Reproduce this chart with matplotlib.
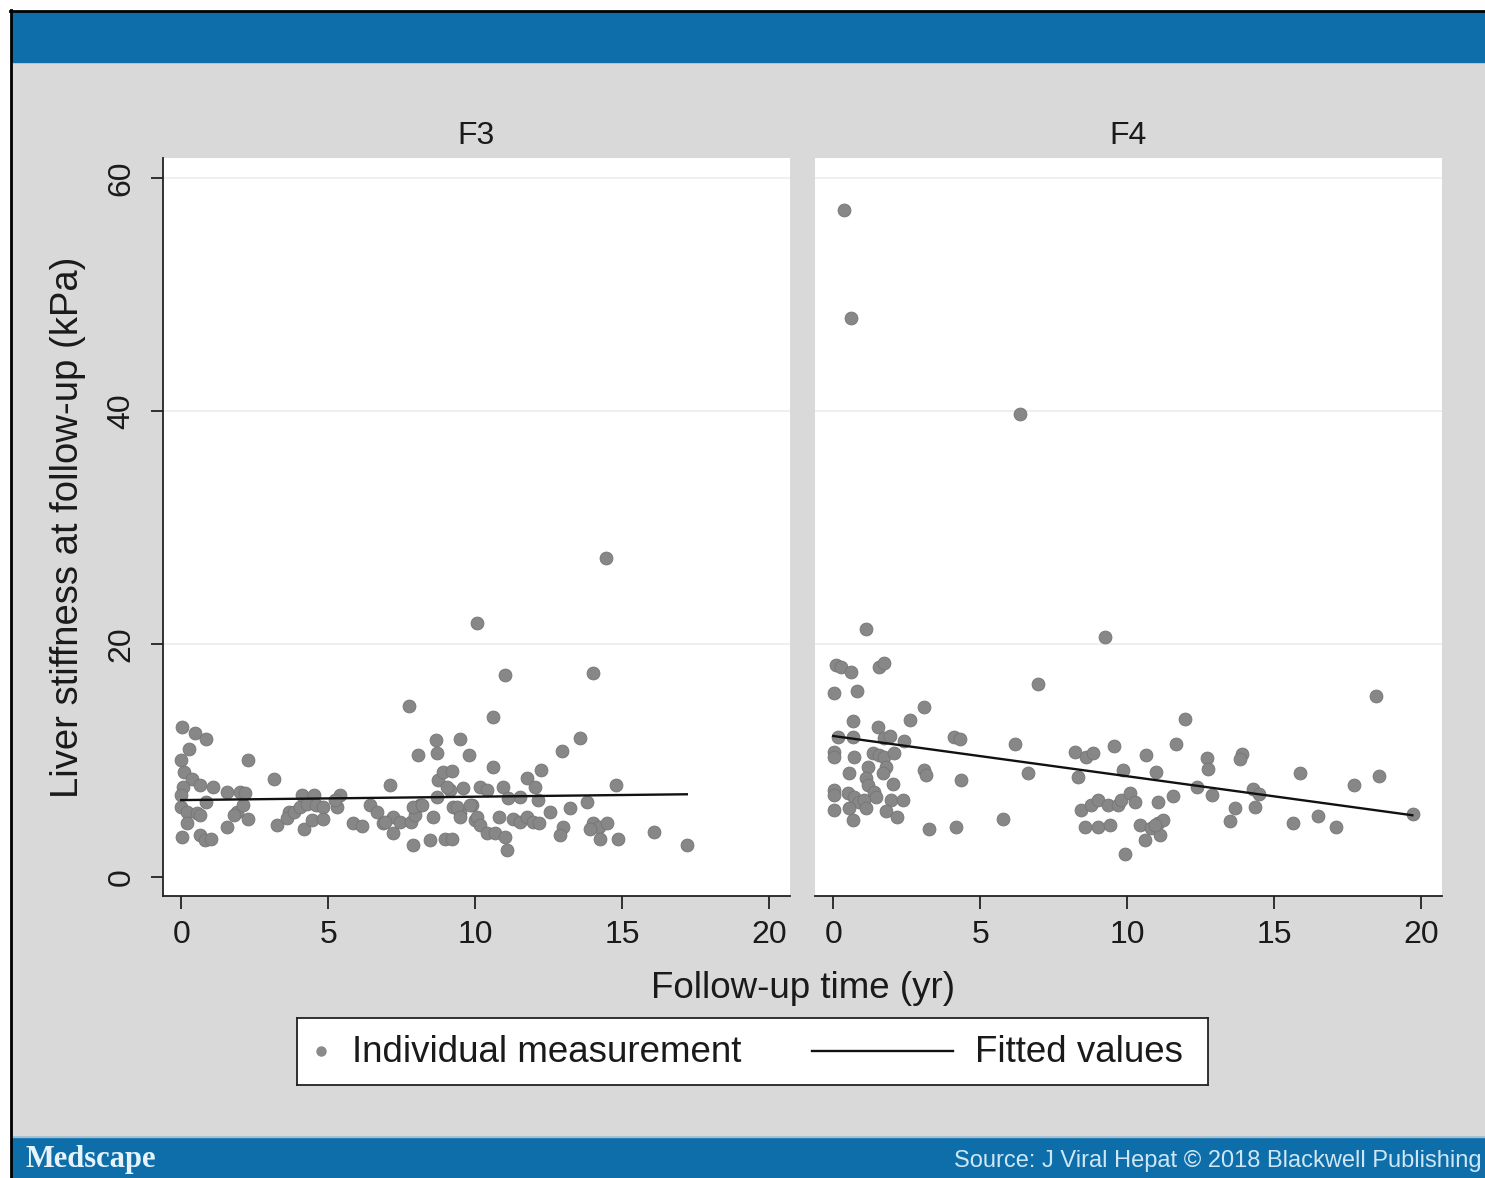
import matplotlib
matplotlib.use('Agg')
import matplotlib.pyplot as plt
from matplotlib.patches import Rectangle
from matplotlib.lines import Line2D

# ---- data ----
f3_time = [0.02, 0.48, 0.84, 0.25, 0.0, 2.26, 0.08, 0.36, 3.14, 0.06, 0.65, 1.08, 1.55, 2.0,
           2.18, 0.0, 0.85, 0.0, 0.19, 0.53, 0.65, 1.9, 1.8, 2.1, 2.26, 3.68, 0.19, 1.56,
           3.25, 3.6, 3.82, 4.05, 4.1, 4.5, 4.27, 4.6, 4.84, 4.16, 4.45, 4.84, 5.3, 5.4,
           5.24, 5.86, 6.15, 6.43, 6.65, 7.1, 7.75, 6.88, 7.22, 7.22, 7.45, 7.9, 7.8, 7.96,
           8.13, 8.07, 8.66, 8.71, 9.49, 9.78, 8.45, 8.98, 9.22, 8.58, 8.75, 8.92, 9.2, 9.15,
           9.58, 9.26, 9.5, 9.9, 10.0, 8.7, 10.6, 10.6, 12.23, 12.95, 13.55, 9.04, 10.17, 10.4,
           10.96, 11.76, 12.04, 12.15, 11.53, 11.13, 9.38, 9.83, 9.49, 7.9, 8.19, 6.94, 10.06,
           10.17, 10.4, 10.68, 11.0, 11.08, 10.8, 11.3, 11.53, 11.76, 11.98, 12.16, 12.55,
           13.23, 13.0, 12.87, 14.8, 13.8, 14.0, 14.2, 13.9, 14.48, 14.23, 14.87, 16.07, 17.2,
           14.44, 10.06, 11.0, 14.02, 0.02, 0.65, 0.82, 1.0]
f3_lsm = [12.85, 12.4, 11.8, 11.0, 10.0, 10.0, 9.0, 8.45, 8.45, 7.75, 7.9, 7.75, 7.3, 7.3,
          7.2, 7.0, 6.45, 6.0, 5.6, 5.45, 5.3, 5.6, 5.3, 6.2, 5.0, 5.6, 4.6, 4.3,
          4.45, 5.1, 5.6, 6.0, 7.0, 7.0, 6.3, 6.2, 6.0, 4.15, 4.9, 5.0, 6.0, 7.0,
          6.6, 4.6, 4.35, 6.2, 5.6, 7.9, 14.7, 4.6, 5.17, 3.74, 4.74, 2.75, 4.74, 5.3,
          6.2, 10.45, 11.78, 10.67, 11.8, 10.45, 3.15, 3.3, 3.3, 5.17, 8.3, 9.0, 9.1, 7.5,
          7.6, 6.0, 5.46, 6.2, 4.9, 6.9, 13.75, 9.46, 9.2, 10.85, 11.9, 7.75, 7.75, 7.47,
          7.75, 8.46, 7.75, 6.6, 6.9, 6.75, 6.0, 6.2, 5.17, 6.0, 6.2, 4.74, 5.17,
          4.46, 3.74, 3.74, 3.45, 2.3, 5.17, 5.0, 4.74, 5.17, 4.74, 4.6, 5.6,
          5.9, 4.3, 3.6, 7.9, 6.45, 4.6, 4.3, 4.15, 4.6, 3.3, 3.3, 3.9, 2.75,
          27.4, 21.8, 17.3, 17.5, 3.45, 3.6, 3.2, 3.26]

f4_time = [0.35, 0.62, 6.34, 1.11, 9.23, 0.09, 0.26, 0.6, 1.57, 1.74, 0.03, 0.8, 6.96, 3.1,
           2.62, 0.66, 1.53, 0.15, 0.66, 1.74, 1.94, 2.4, 4.12, 4.3, 6.2, 0.03, 0.03, 0.69,
           1.34, 1.57, 1.74, 2.08, 1.17, 1.8, 0.55, 1.68, 3.1, 3.16, 4.35, 6.62, 1.11, 1.17,
           2.05, 0.03, 0.03, 0.49, 0.72, 0.89, 1.06, 1.4, 1.45, 1.97, 2.36, 0.03, 0.55, 1.11,
           1.8, 2.17, 0.66, 3.27, 4.18, 5.77, 8.21, 8.6, 8.83, 9.55, 9.86, 8.32, 8.44, 8.78,
           9.0, 9.35, 9.69, 9.8, 10.08, 8.55, 9.0, 9.4, 9.91, 11.96, 10.65, 11.65, 12.7, 12.75,
           10.97, 12.36, 12.87, 10.26, 11.05, 11.56, 10.43, 10.82, 11.05, 11.22, 11.1, 10.6,
           18.47, 13.9, 13.83, 15.88, 18.57, 17.72, 14.27, 14.5, 19.74, 13.66, 13.49, 14.34,
           15.65, 16.5, 17.1, 10.94]
f4_lsm = [57.2, 48.0, 39.7, 21.3, 20.6, 18.2, 18.0, 17.6, 18.05, 18.4, 15.76, 15.96, 16.6, 14.56,
          13.5, 13.4, 12.84, 12.04, 12.04, 11.9, 12.1, 11.7, 12.04, 11.8, 11.4, 10.75, 10.3, 10.3,
          10.6, 10.46, 10.3, 10.6, 9.46, 9.46, 8.9, 8.9, 9.18, 8.75, 8.33, 8.95, 8.46, 7.9,
          7.97, 7.47, 7.04, 7.18, 6.9, 6.45, 6.6, 7.3, 6.9, 6.6, 6.6, 5.75, 5.9, 5.9,
          5.67, 5.17, 4.9, 4.08, 4.3, 5.0, 10.75, 10.3, 10.6, 11.2, 9.18, 8.6, 5.75, 6.18,
          6.6, 6.18, 6.18, 6.6, 7.2, 4.3, 4.3, 4.46, 2.0, 13.6, 10.46, 11.4, 10.17, 9.23,
          9.0, 7.75, 7.04, 6.45, 6.45, 6.95, 4.46, 4.17, 4.6, 4.9, 3.6, 3.18,
          15.54, 10.55, 10.1, 8.95, 8.67, 7.9, 7.52, 7.12, 5.37, 5.88, 4.82, 5.97,
          4.65, 5.23, 4.3, 4.46]

# fitted line end points
fit3_time = [0.0, 17.2]
fit3_lsm = [6.6, 7.1]
fit4_time = [0.0, 19.7]
fit4_lsm = [12.1, 5.3]

panels = ['F3', 'F4']
xticks = [0, 5, 10, 15, 20]
yticks = [0, 20, 40, 60]

W, H = 1485, 1178
BLUE = '#0d6eaa'
GRAY_BG = '#d9d9d9'
DOT = '#878787'
plt.rcParams['font.family'] = ['Liberation Sans', 'DejaVu Sans']


def fx(x):
    return x / W


def fy(y):
    return 1 - y / H


fig = plt.figure(figsize=(W / 100, H / 100), dpi=100)
fig.patch.set_facecolor('white')

# page background, header and footer bars
fig.add_artist(Rectangle((fx(12), fy(1137)), fx(W - 12), (1137 - 62) / H,
                         transform=fig.transFigure, color=GRAY_BG, zorder=-10))
fig.add_artist(Rectangle((fx(12), fy(62)), fx(W - 12), 50 / H,
                         transform=fig.transFigure, color=BLUE, zorder=-9))
fig.add_artist(Rectangle((fx(12), 0), fx(W - 12), 41 / H,
                         transform=fig.transFigure, color=BLUE, zorder=-9))
fig.add_artist(Line2D([fx(12), 1], [fy(1137), fy(1137)], transform=fig.transFigure,
                      color='#8cc3e3', lw=1, zorder=-8))
fig.add_artist(Line2D([fx(10.5), fx(10.5)], [0, fy(10)], transform=fig.transFigure,
                      color='black', lw=2, zorder=-8))
fig.add_artist(Line2D([fx(10), 1], [fy(10.5), fy(10.5)], transform=fig.transFigure,
                      color='black', lw=2, zorder=-8))

ax3 = fig.add_axes([fx(163), fy(896), 627 / W, 738 / H])
ax4 = fig.add_axes([fx(815), fy(896), 627 / W, 738 / H], sharey=ax3)

data = [(ax3, f3_time, f3_lsm, fit3_time, fit3_lsm),
        (ax4, f4_time, f4_lsm, fit4_time, fit4_lsm)]

for (ax, t, v, ft, fv), name in zip(data, panels):
    ax.set_facecolor('white')
    ax.scatter(t, v, s=86, color=DOT, edgecolors='#757575', linewidths=0.6, zorder=3)
    ax.plot(ft, fv, color='#111111', lw=1.7, zorder=4)
    ax.set_xlim(-0.62, 20.71)
    ax.set_ylim(-1.63, 61.7)
    ax.set_xticks(xticks)
    ax.set_yticks(yticks)
    ax.yaxis.grid(True, color='#ececec', lw=1.2)
    ax.yaxis.get_gridlines()[0].set_visible(False)
    ax.set_axisbelow(True)
    for s in ['top', 'right']:
        ax.spines[s].set_visible(False)
    ax.spines['bottom'].set_color('#222222')
    ax.spines['bottom'].set_linewidth(1.3)
    ax.spines['left'].set_color('#222222')
    ax.spines['left'].set_linewidth(1.3)
    ax.tick_params(axis='x', length=9, width=1.3, color='#222222', pad=8,
                   labelsize=23, labelcolor='#1a1a1a')
    ax.set_title(name, fontsize=23, pad=10, color='#1a1a1a')

ax3.tick_params(axis='y', length=9, width=1.3, color='#222222', pad=10,
                labelsize=23, labelcolor='#1a1a1a', labelrotation=90)
for lab in ax3.get_yticklabels():
    lab.set_va('center')
ax4.spines['left'].set_visible(False)
ax4.tick_params(axis='y', left=False, labelleft=False)

fig.text(fx(68), fy(527), 'Liver stiffness at follow-up (kPa)', rotation=90,
         ha='center', va='center', fontsize=27.5, color='#1a1a1a')
fig.text(fx(803), fy(988), 'Follow-up time (yr)', ha='center', va='center',
         fontsize=26.5, color='#1a1a1a')

# legend box
axl = fig.add_axes([fx(297), fy(1085), 911 / W, 67 / H])
axl.set_xlim(0, 911)
axl.set_ylim(0, 67)
axl.set_xticks([])
axl.set_yticks([])
for s in axl.spines.values():
    s.set_color('#222222')
    s.set_linewidth(1.3)
axl.plot([24], [34], 'o', ms=6.5, color='#8a8a8a')
axl.text(55, 33, 'Individual measurement', va='center', ha='left', fontsize=26.5,
         color='#1a1a1a')
axl.plot([515, 656], [34, 34], color='#111111', lw=1.7)
axl.text(678, 33, 'Fitted values', va='center', ha='left', fontsize=26.5,
         color='#1a1a1a')

# footer texts
fig.text(fx(25), fy(1160), 'Medscape', ha='left', va='center', fontsize=22,
         weight='bold', family=['Liberation Serif', 'DejaVu Serif'], color='#e6f3fa')
fig.text(fx(1482), fy(1161), 'Source: J Viral Hepat \u00a9 2018 Blackwell Publishing',
         ha='right', va='center', fontsize=17, color='#cfe6f4')

fig.savefig('out.png', dpi=100)
